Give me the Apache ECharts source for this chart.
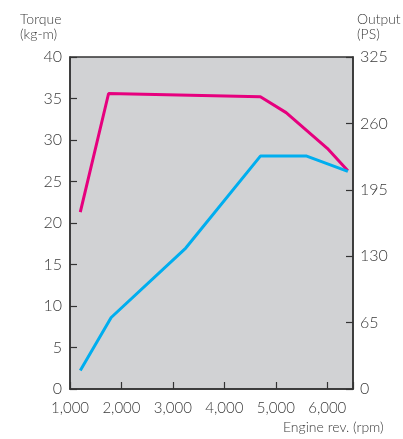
<!DOCTYPE html>
<html><head><meta charset="utf-8">
<script src="https://cdn.jsdelivr.net/npm/echarts@6/dist/echarts.min.js"></script>
<style>html,body{margin:0;padding:0;background:#fff}#c{width:403px;height:439px}</style>
</head><body><div id="c"></div>
<script>
const torqueRpm = [1200, 1750, 4700, 5200, 6000, 6400];
const torqueVal = [21.3, 35.6, 35.2, 33.3, 29.0, 26.3];
const outputRpm = [1200, 1800, 3250, 4700, 5600, 6400];
const outputVal = [18, 70, 138, 228, 228, 213];
const torqueTicks = {min: 0, max: 40, interval: 5};
const outputTicks = {min: 0, max: 325, interval: 65};
const rpmTicks = {min: 1000, max: 6500, interval: 1000};

const font = 'Lato, "Noto Sans", sans-serif';
const txt = '#3a3a3a';
const chart = echarts.init(document.getElementById('c'));
chart.setOption({
  animation: false,
  textStyle: {fontFamily: font},
  grid: {left: 70, right: 50, top: 57, bottom: 50, show: true, backgroundColor: '#d1d2d4', borderColor: '#333', borderWidth: 1.5},
  xAxis: {
    type: 'value', min: rpmTicks.min, max: rpmTicks.max, interval: rpmTicks.interval,
    splitLine: {show: false},
    axisLine: {lineStyle: {color: '#333', width: 1.5}},
    axisTick: {inside: true, length: 7, lineStyle: {color: '#333', width: 1.2}},
    axisLabel: {color: txt, fontSize: 15, fontWeight: 300, margin: 12, fontFamily: font,
      formatter: v => v > 6000 ? '' : v.toLocaleString('en-US')}
  },
  yAxis: [{
    type: 'value', min: torqueTicks.min, max: torqueTicks.max, interval: torqueTicks.interval,
    splitLine: {show: false},
    axisLine: {show: true, lineStyle: {color: '#333', width: 1.5}},
    axisTick: {show: true, inside: true, length: 7, lineStyle: {color: '#333', width: 1.2}},
    axisLabel: {color: txt, fontSize: 16, fontWeight: 300, margin: 8, fontFamily: font}
  }, {
    type: 'value', min: outputTicks.min, max: outputTicks.max, interval: outputTicks.interval,
    splitLine: {show: false},
    axisLine: {show: true, lineStyle: {color: '#333', width: 1.5}},
    axisTick: {show: true, inside: true, length: 7, lineStyle: {color: '#333', width: 1.2}},
    axisLabel: {color: txt, fontSize: 16, fontWeight: 300, margin: 7, fontFamily: font}
  }],
  graphic: [
    {type: 'text', left: 20, top: 12, style: {text: 'Torque\n(kg-m)', fill: txt, font: '300 14px ' + font, lineHeight: 15}},
    {type: 'text', left: 357, top: 12, style: {text: 'Output\n(PS)', fill: txt, font: '300 14px ' + font, lineHeight: 15}},
    {type: 'text', left: 283, top: 420, style: {text: 'Engine rev. (rpm)', fill: txt, font: '300 14px ' + font}}
  ],
  series: [{
    type: 'line', yAxisIndex: 0, data: torqueRpm.map((r, i) => [r, torqueVal[i]]),
    showSymbol: false, lineStyle: {color: '#e6007e', width: 3}, itemStyle: {color: '#e6007e'}
  }, {
    type: 'line', yAxisIndex: 1, data: outputRpm.map((r, i) => [r, outputVal[i]]),
    showSymbol: false, lineStyle: {color: '#00aeef', width: 3}, itemStyle: {color: '#00aeef'}
  }]
});
</script></body></html>
